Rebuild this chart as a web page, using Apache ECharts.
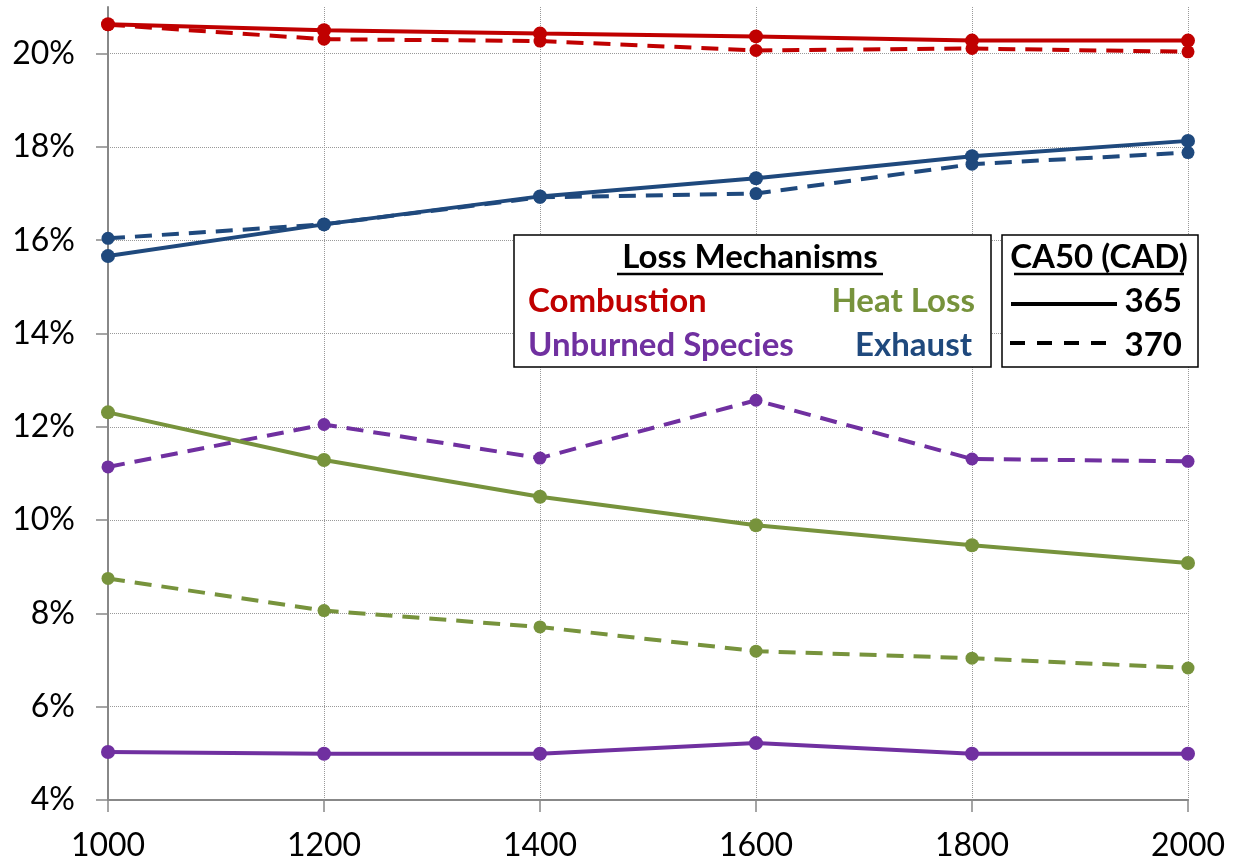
<!DOCTYPE html>
<html>
<head>
<meta charset="utf-8">
<script src="https://cdn.jsdelivr.net/npm/echarts@6/dist/echarts.min.js"></script>
<style>
  html, body { margin: 0; padding: 0; background: #fff; }
  #chart { width: 1237px; height: 867px; }
</style>
</head>
<body>
<div id="chart"></div>
<script>
// engine speed (x) and loss fractions in %
var speeds = [1000, 1200, 1400, 1600, 1800, 2000];

var combustion365 = [20.63, 20.50, 20.43, 20.37, 20.28, 20.28];
var combustion370 = [20.62, 20.31, 20.27, 20.07, 20.11, 20.04];
var exhaust365 = [15.66, 16.34, 16.94, 17.33, 17.80, 18.13];
var exhaust370 = [16.04, 16.34, 16.92, 17.00, 17.63, 17.88];
var heatLoss365 = [12.31, 11.29, 10.50, 9.89, 9.46, 9.08];
var heatLoss370 = [8.75, 8.06, 7.71, 7.19, 7.04, 6.83];
var unburned365 = [5.03, 4.99, 4.99, 5.22, 4.99, 4.99];
var unburned370 = [11.14, 12.05, 11.33, 12.57, 11.31, 11.26];

var colors = {
    combustion: '#C00000',
    heat: '#77933C',
    unburned: '#7030A0',
    exhaust: '#1F497D'
};
var font = 'Lato, "Open Sans", sans-serif';
var legendFont = 'bold 33px ' + font;

function pairs(vals){
    return speeds.map(function(s, i){ return [s, vals[i]]; });
}

function makeSeries(name, vals, color, dashed){
    return {
        name: name,
        type: 'line',
        data: pairs(vals),
        symbol: 'circle',
        symbolSize: dashed ? 13 : 14,
        itemStyle: { color: color },
        lineStyle: {
            color: color,
            width: 4,
            type: dashed ? [17, 10] : 'solid'
        },
        animation: false
    };
}

var chart = echarts.init(document.getElementById('chart'));
var option = {
    backgroundColor: '#fff',
    grid: { left: 108, right: 49, top: 7, bottom: 67 },
    xAxis: {
        type: 'value',
        min: 1000,
        max: 2000,
        interval: 200,
        axisLine: { lineStyle: { color: '#888', width: 2 } },
        axisTick: { show: true, length: 12, lineStyle: { color: '#888', width: 1.5 } },
        axisLabel: {
            color: '#000', fontSize: 32, fontFamily: font, margin: 30,
            formatter: function(v){ return String(v); }
        },
        splitLine: { lineStyle: { color: '#999', type: 'dotted', width: 1 } }
    },
    yAxis: {
        type: 'value',
        min: 4,
        max: 21,
        interval: 2,
        axisLine: { show: true, lineStyle: { color: '#888', width: 2 } },
        axisTick: { show: true, length: 12, lineStyle: { color: '#888', width: 1.5 } },
        axisLabel: {
            color: '#000', fontSize: 32, fontFamily: font, margin: 33,
            showMaxLabel: false,
            formatter: function(v){ return v + '%'; }
        },
        splitLine: { showMaxLine: false, lineStyle: { color: '#999', type: 'dotted', width: 1 } }
    },
    series: [
        makeSeries('Unburned 365', unburned365, colors.unburned, false),
        makeSeries('Unburned 370', unburned370, colors.unburned, true),
        makeSeries('Heat Loss 365', heatLoss365, colors.heat, false),
        makeSeries('Heat Loss 370', heatLoss370, colors.heat, true),
        makeSeries('Exhaust 370', exhaust370, colors.exhaust, true),
        makeSeries('Exhaust 365', exhaust365, colors.exhaust, false),
        makeSeries('Combustion 370', combustion370, colors.combustion, true),
        makeSeries('Combustion 365', combustion365, colors.combustion, false)
    ],
    graphic: [
        // loss mechanisms box
        { type: 'rect', shape: { x: 514, y: 235, width: 477, height: 132 },
          style: { fill: '#fff', stroke: '#000', lineWidth: 1.5 }, z: 100 },
        { type: 'text', x: 750, y: 257, z: 101,
          style: { text: 'Loss Mechanisms', font: legendFont, fill: '#000', align: 'center', verticalAlign: 'middle' } },
        { type: 'line', shape: { x1: 617, y1: 274, x2: 883, y2: 274 }, style: { stroke: '#000', lineWidth: 2.5 }, z: 101 },
        { type: 'text', x: 528, y: 301, z: 101,
          style: { text: 'Combustion', font: legendFont, fill: colors.combustion, align: 'left', verticalAlign: 'middle' } },
        { type: 'text', x: 975, y: 301, z: 101,
          style: { text: 'Heat Loss', font: legendFont, fill: colors.heat, align: 'right', verticalAlign: 'middle' } },
        { type: 'text', x: 528, y: 345, z: 101,
          style: { text: 'Unburned Species', font: legendFont, fill: colors.unburned, align: 'left', verticalAlign: 'middle' } },
        { type: 'text', x: 972, y: 345, z: 101,
          style: { text: 'Exhaust', font: legendFont, fill: colors.exhaust, align: 'right', verticalAlign: 'middle' } },
        // CA50 box
        { type: 'rect', shape: { x: 1002, y: 235, width: 196, height: 132 },
          style: { fill: '#fff', stroke: '#000', lineWidth: 1.5 }, z: 100 },
        { type: 'text', x: 1099, y: 257, z: 101,
          style: { text: 'CA50 (CAD)', font: legendFont, fill: '#000', align: 'center', verticalAlign: 'middle' } },
        { type: 'line', shape: { x1: 1014, y1: 274, x2: 1184, y2: 274 }, style: { stroke: '#000', lineWidth: 2.5 }, z: 101 },
        { type: 'line', shape: { x1: 1011, y1: 304, x2: 1117, y2: 304 }, style: { stroke: '#000', lineWidth: 4 }, z: 101 },
        { type: 'text', x: 1182, y: 301, z: 101,
          style: { text: '365', font: legendFont, fill: '#000', align: 'right', verticalAlign: 'middle' } },
        { type: 'line', shape: { x1: 1010, y1: 343, x2: 1110, y2: 343 }, style: { stroke: '#000', lineWidth: 4, lineDash: [15, 12] }, z: 101 },
        { type: 'text', x: 1182, y: 345, z: 101,
          style: { text: '370', font: legendFont, fill: '#000', align: 'right', verticalAlign: 'middle' } }
    ]
};
chart.setOption(option);
</script>
</body>
</html>
